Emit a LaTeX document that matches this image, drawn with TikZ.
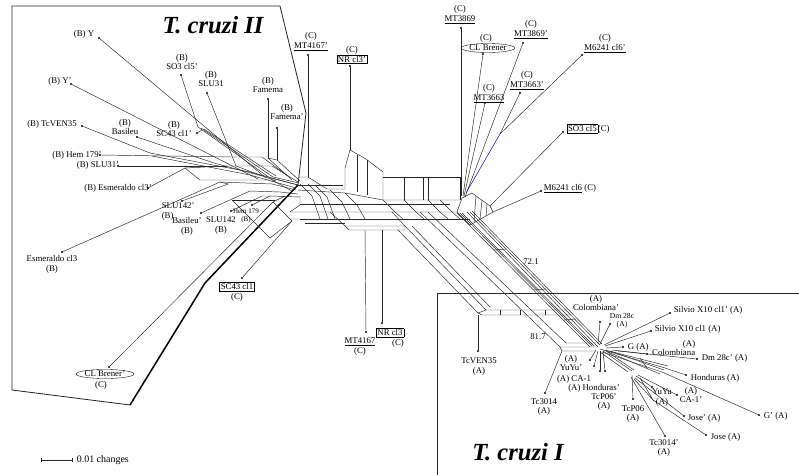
\documentclass[tikz,border=0pt]{standalone}
\usepackage{fontspec}
\setmainfont{Liberation Serif}
\usetikzlibrary{arrows.meta,shapes.geometric}
\setlength{\fboxsep}{0.8pt}
\setlength{\fboxrule}{0.3pt}
\tikzset{
  net/.style={line width=0.4pt,black!85},
  bnd/.style={line width=0.7pt,black!85},
  tip/.style={circle,fill,inner sep=0pt,minimum size=1.8pt},
  lab/.style={font=\fontsize{7.5}{8.5}\selectfont,inner sep=0.5pt,align=center},
  ov/.style={ellipse,draw,line width=0.3pt,inner sep=0.2pt},
  ttl/.style={font=\fontsize{21}{21}\selectfont\bfseries\itshape},
}

\begin{document}
\begin{tikzpicture}[x=0.03cm,y=-0.03cm]
  \path[use as bounding box] (0,0) rectangle (799,475);
  % clade frames and titles
  \draw[bnd] (298,185) -- (306,113) -- (280,6) -- (12,6) -- (12,390) -- (130,405);
  \draw[line width=1.3pt] (130,405) -- (205,283) -- (298,185);
  \draw[bnd] (437,475) -- (437,293) -- (799,293);
  \node[ttl] (t2) at (213,25) {T. cruzi II};
  \node[ttl] (t1) at (518,452) {T. cruzi I};
  % scale bar
  \coordinate (s0) at (41,460);
  \coordinate (s1) at (72,460);
  \draw[net,{Bar[width=3pt]}-{Bar[width=3pt]}] (s0) -- (s1);
  \node[lab,anchor=west,font=\fontsize{8.5}{9}\selectfont] (sc) at (76,460) {0.01 changes};

  % hubs
  \coordinate (h1) at (298,185);
  \coordinate (h2) at (460,200);
  \coordinate (h3) at (598,347);
  \coordinate (h4) at (630,373);

  % network: T. cruzi II side
  \draw[net] (150,153) -- (250,172) -- (h1);
  \draw[net] (152,156) -- (250,175) -- (296,188);
  \draw[net] (232,157) -- (262,157) -- (288,176);
  \draw[net] (226,166) -- (272,166) -- (298,182);
  \draw[net] (185,168) -- (226,166);
  \draw[net] (185,168) -- (200,180) -- (272,180) -- (292,191);
  \draw[net] (198,127) -- (270,178) -- (h1);
  \draw[net] (201,128) -- (273,177) -- (299,183);
  \draw[net] (204,129) -- (276,176);
  \draw[net] (214,163) -- (262,176);
  \draw[net] (236,166) -- (276,181);
  \draw[net] (268,158) -- (292,180);
  \draw[net] (268,158) -- (277,160) -- (300,181);
  \draw[net] (220,182) -- (272,184) -- (296,190);
  \draw[net] (228,184) -- (220,182);
  \draw[net] (250,191) -- (280,192) -- (298,194);
  \draw[net] (262,196) -- (270,196) -- (300,197);
  \draw[net] (273,202) -- (285,196);
  \draw[net] (273,202) -- (290,219) -- (300,219);
  \draw[net] (292,221) -- (290,219);
  \draw[net] (290,212) -- (300,205) -- (300,196);
  \draw[net] (232,200) -- (275,200);
  \draw[net] (232,200) -- (270,238) -- (292,221);
  % central trunk
  \draw[net] (299,177) -- (308,177) -- (327,189) -- (345,189);
  \draw[net] (h1) -- (343,185);
  \draw[net] (298,190) -- (345,193) -- (383,200) -- (460,200);
  \draw[net] (300,204) -- (450,204);
  \draw[net] (290,212) -- (457,212) -- (462,198);
  \draw[net] (300,219) -- (470,219);
  \draw[net] (305,223) -- (345,223);
  \draw[net] (345,189) -- (345,168) -- (350,150) -- (366,159) -- (383,172) -- (383,200);
  \draw[net] (357,155) -- (357,192);
  \draw[net] (367,160) -- (367,195);
  \draw[net] (383,177) -- (460,177) -- (h2);
  \foreach \x in {404,423,428}
    \draw[net] (\x,177) -- (\x,200);
  \foreach \x/\y in {300/184,308/184,315/185,330/190,345/193,383/200,404/200,428/200,440/200}
    \draw[net] (\x,\y) -- (\x+12,\y+12) -- (\x+20,219);
  % side branch to MT4167 / NR cl3
  \draw[net] (330,212) -- (345,226) -- (405,226) -- (392,212);
  \draw[net] (345,226) -- (349,230) -- (405,230) -- (405,226);
  % TcVEN35 branch
  \draw[net] (405,226) -- (486,310) -- (567,310);
  \draw[net] (398,230) -- (478,313) -- (482,315) -- (570,315);
  \draw[net] (412,226) -- (490,307);
  \draw[net] (478,313) -- (486,310);
  \foreach \x in {500,520,545}
    \draw[net] (\x,310) -- (\x,315);
  % 81.7 branch
  \draw[net] (420,212) -- (560,347) -- (596,347);
  \draw[net] (428,212) -- (566,343) -- (596,343);
  \draw[net] (560,347) -- (562,351) -- (596,351);
  % 72.1 band
  \draw[net] (457,213) -- (590,347);
  \draw[net] (460,213) -- (592,346);
  \draw[net] (462,213) -- (594,346);
  \draw[net] (467,212) -- (h3);
  \draw[net] (470,212) -- (600,345);
  \draw[net] (472,211) -- (602,344);
  \foreach \y in {250,290,320}
    \draw[net] (\y+244,\y) -- (\y+256,\y-1);
  % boxes right of h2
  \draw[net] (462,198) -- (472,193) -- (490,206) -- (493,212) -- (470,225) -- (457,212);
  \draw[net] (476,196) -- (474,222);
  \draw[net] (482,200) -- (480,219);
  \draw[net] (487,204) -- (486,216);
  % T. cruzi I hub
  \draw[net] (600,349) -- (665,368);
  \draw[net] (602,352) -- (662,372);
  \draw[net] (605,350) -- (668,366);
  \draw[net] (608,352) -- (660,374);
  \draw[net] (610,351) -- (664,370);
  \draw[net] (640,358) -- (647,368);
  \draw[net] (600,352) -- (628,372);
  \draw[net] (603,351) -- (632,371);
  \draw[net] (606,351) -- (634,370);
  \draw[net] (634,379) -- (653,400) -- (640,378);

  % leaf tips
  \node[tip] (dY) at (99,38) {};
  \node[tip] (dYp) at (71,84) {};
  \node[tip] (dTv) at (82,126) {};
  \node[tip] (dBas) at (137,137) {};
  \node[tip] (dSOp) at (181,75) {};
  \node[tip] (dSCp) at (197,133) {};
  \node[tip] (dSLUa) at (207,93) {};
  \node[tip] (dFam) at (268,99) {};
  \node[tip] (dFamp) at (277,128) {};
  \node[tip] (dHemp) at (100,155) {};
  \node[tip] (dSLUap) at (118,166) {};
  \node[tip] (dEsp) at (148,188) {};
  \node[tip] (dSLUbp) at (182,201) {};
  \node[tip] (dBasp) at (201,213) {};
  \node[tip] (dSLUb) at (252,205) {};
  \node[tip] (dHem) at (231,211) {};
  \node[tip] (dEs) at (62,252) {};
  \node[tip] (dCLBp) at (109,367) {};
  \node[tip] (dSC) at (242,278) {};
  \node[tip] (dMTap) at (308,55) {};
  \node[tip] (dNRp) at (350,66) {};
  \node[tip] (dMTb) at (461,28) {};
  \node[tip] (dCLB) at (483,54) {};
  \node[tip] (dMTbp) at (523,43) {};
  \node[tip] (dMcp) at (582,55) {};
  \node[tip] (dMTc) at (485,103) {};
  \node[tip] (dMTcp) at (520,93) {};
  \node[tip] (dSO) at (563,132) {};
  \node[tip] (dMc) at (541,191) {};
  \node[tip] (dMTa) at (366,332) {};
  \node[tip] (dNR) at (382,323) {};
  \node[tip] (dTvA) at (478,351) {};
  \node[tip] (dTc) at (545,393) {};
  \node[tip] (dColp) at (600,322) {};
  \node[tip] (dDm) at (610,324) {};
  \node[tip] (dSilp) at (670,313) {};
  \node[tip] (dSil) at (651,331) {};
  \node[tip] (dG) at (623,347) {};
  \node[tip] (dCol) at (647,354) {};
  \node[tip] (dDmp) at (697,359) {};
  \node[tip] (dHon) at (686,375) {};
  \node[tip] (dCAp) at (677,395) {};
  \node[tip] (dYu) at (652,387) {};
  \node[tip] (dTcPp) at (605,371) {};
  \node[tip] (dTcP) at (633,399) {};
  \node[tip] (dJosp) at (684,416) {};
  \node[tip] (dJos) at (706,435) {};
  \node[tip] (dGp) at (759,415) {};
  \node[tip] (dTcp) at (665,436) {};
  \node[tip] (dYup) at (590,360) {};
  \node[tip] (dCA) at (594,366) {};
  \node[tip] (dHonp) at (600,371) {};

  % attachment points on the network
  \coordinate (aY) at (266,178);
  \coordinate (aYp) at (258,179);
  \coordinate (aTv) at (150,153);
  \coordinate (aBas) at (214,163);
  \coordinate (aSOp) at (198,127);
  \coordinate (aSCp) at (202,130);
  \coordinate (aSLUa) at (236,166);
  \coordinate (aFam) at (268,158);
  \coordinate (aFamp) at (277,160);
  \coordinate (aHemp) at (232,157);
  \coordinate (aSLUap) at (226,166);
  \coordinate (aEsp) at (185,168);
  \coordinate (aSLUbp) at (228,184);
  \coordinate (aBasp) at (250,191);
  \coordinate (aSLUb) at (270,196);
  \coordinate (aHem) at (262,196);
  \coordinate (aEs) at (220,182);
  \coordinate (aCLBp) at (273,202);
  \coordinate (aSC) at (292,221);
  \coordinate (aMTap) at (308,177);
  \coordinate (aNRp) at (350,150);
  \coordinate (aMTb) at (461,196);
  \coordinate (aCLB) at (463,196);
  \coordinate (aMTc) at (464,196);
  \coordinate (aMTbp) at (465,197);
  \coordinate (aJ) at (500,134);
  \coordinate (aBlue) at (466,193);
  \coordinate (aSO) at (490,206);
  \coordinate (aMc) at (493,212);
  \coordinate (aMTa) at (365,230);
  \coordinate (aNR) at (382,230);
  \coordinate (aTvA) at (478,315);
  \coordinate (aTc) at (562,351);
  \coordinate (aColp) at (598,344);
  \coordinate (aDm) at (600,344);
  \coordinate (aSilp) at (604,345);
  \coordinate (aSil) at (605,346);
  \coordinate (aG) at (606,348);
  \coordinate (aCol) at (612,350);
  \coordinate (aDmp) at (618,351);
  \coordinate (aHon) at (665,368);
  \coordinate (aGp) at (662,372);
  \coordinate (aYup) at (596,350);
  \coordinate (aCA) at (598,351);
  \coordinate (aHonp) at (600,351);
  \coordinate (aTcPp) at (603,351);
  \coordinate (aTcP) at (632,375);
  \coordinate (aYu) at (636,376);
  \coordinate (aCAp) at (638,375);
  \coordinate (aJosp) at (635,378);
  \coordinate (aTcp) at (631,377);
  \coordinate (aJos) at (653,400);

  \foreach \d/\a in {dY/aY,dYp/aYp,dTv/aTv,dBas/aBas,dSOp/aSOp,dSCp/aSCp,
      dSLUa/aSLUa,dFam/aFam,dFamp/aFamp,dHemp/aHemp,dSLUap/aSLUap,dEsp/aEsp,
      dSLUbp/aSLUbp,dBasp/aBasp,dSLUb/aSLUb,dHem/aHem,dEs/aEs,dCLBp/aCLBp,
      dSC/aSC,dMTap/aMTap,dNRp/aNRp,dMTb/aMTb,dCLB/aCLB,dMTc/aMTc,
      dMTbp/aMTbp,dMTcp/aJ,dMcp/aJ,dSO/aSO,dMc/aMc,dMTa/aMTa,dNR/aNR,
      dTvA/aTvA,dTc/aTc,dColp/aColp,dDm/aDm,dSilp/aSilp,dSil/aSil,dG/aG,
      dCol/aCol,dDmp/aDmp,dHon/aHon,dGp/aGp,dYup/aYup,dCA/aCA,dHonp/aHonp,
      dTcPp/aTcPp,dTcP/aTcP,dYu/aYu,dCAp/aCAp,dJosp/aJosp,dTcp/aTcp,dJos/aJos}
    \draw[net] (\d) -- (\a);
  \draw[net,blue!70!black] (aJ) -- (aBlue);

  % labels, T. cruzi II
  \node[lab] (lY) at (84,34) {(B) Y};
  \node[lab] (lYp) at (60,81) {(B) Y'};
  \node[lab] (lTv) at (52,124) {(B) TcVEN35};
  \node[lab] (lBas) at (125,127) {(B)\\Basileu};
  \node[lab] (lSOp) at (182,62) {(B)\\SO3 cl5'};
  \node[lab] (lSLUa) at (211,79) {(B)\\SLU31};
  \node[lab] (lFam) at (268,85) {(B)\\Famema};
  \node[lab] (lFamp) at (287,112) {(B)\\Famema'};
  \node[lab] (lSCp) at (174,129) {(B)\\SC43 cl1'};
  \node[lab] (lHemp) at (77,155) {(B) Hem 179'};
  \node[lab] (lSLUap) at (98,165) {(B) SLU31'};
  \node[lab] (lEsp) at (118,188) {(B) Esmeraldo cl3'};
  \node[lab,align=left,anchor=north west] (lSLUbp) at (161,202) {SLU142'\\(B)};
  \node[lab] (lBasp) at (187,226) {Basileu'\\(B)};
  \node[lab] (lSLUb) at (221,226) {SLU142\\(B)};
  \node[lab,font=\fontsize{6}{6.5}\selectfont] (lHem) at (246,216) {Hem 179\\(B)};
  \node[lab] (lEs) at (52,264) {Esmeraldo cl3\\(B)};
  \node[lab,ov] (lCLBp) at (105,374) {CL Brener'};
  \node[lab] (lCLBpc) at (101,385) {(C)};
  \node[lab] (lSC) at (237,292) {\fbox{SC43 cl1}\\(C)};
  % labels, group C
  \node[lab] (lMTap) at (311,42) {(C)\\\underline{MT4167'}};
  \node[lab] (lNRp) at (352,55) {(C)\\\fbox{NR cl3'}};
  \node[lab] (lMTb) at (460,15) {(C)\\\underline{MT3869}};
  \node[lab] (lCLBc) at (486,38) {(C)};
  \node[lab,ov] (lCLB) at (488,48) {CL Brener};
  \node[lab] (lMTbp) at (531,30) {(C)\\\underline{MT3869'}};
  \node[lab] (lMcp) at (605,44) {(C)\\\underline{M6241 cl6'}};
  \node[lab] (lMTc) at (489,94) {(C)\\\underline{MT3663}};
  \node[lab] (lMTcp) at (527,81) {(C)\\\underline{MT3663'}};
  \node[lab,anchor=west] (lSO) at (566,129) {\fbox{SO3 cl5}(C)};
  \node[lab,anchor=west] (lMc) at (543,189) {\underline{M6241 cl6} (C)};
  \node[lab] (lMTa) at (360,347) {\underline{MT4167}\\(C)};
  \node[lab,align=right] (lNR) at (390,338) {\fbox{NR cl3}\\(C)};
  \node[lab] (l72) at (531,262) {72.1};
  \node[lab] (l82) at (538,337) {81.7};
  % labels, T. cruzi I
  \node[lab] (lTvA) at (479,367) {TcVEN35\\(A)};
  \node[lab] (lTc) at (544,407) {Tc3014\\(A)};
  \node[lab] (lColp) at (596,303) {(A)\\Colombiana'};
  \node[lab,font=\fontsize{6.5}{6.5}\selectfont] (lDm) at (622,321) {Dm 28c\\(A)};
  \node[lab,anchor=west] (lSilp) at (673,310) {Silvio X10 cl1' (A)};
  \node[lab,anchor=west] (lSil) at (654,329) {Silvio X10 cl1 (A)};
  \node[lab,anchor=west] (lG) at (627,347) {G (A)};
  \node[lab,align=right,anchor=east] (lCol) at (696,348) {(A)\\Colombiana};
  \node[lab,anchor=west] (lDmp) at (701,358) {Dm 28c' (A)};
  \node[lab,anchor=west] (lHon) at (690,378) {Honduras (A)};
  \node[lab] (lCAp) at (691,395) {(A)\\CA-1'};
  \node[lab] (lYu) at (662,398) {YuYu\\(A)};
  \node[lab] (lTcPp) at (604,402) {TcP06'\\(A)};
  \node[lab] (lTcP) at (633,414) {TcP06\\(A)};
  \node[lab,anchor=west] (lJosp) at (687,418) {Jose' (A)};
  \node[lab,anchor=west] (lJos) at (710,437) {Jose (A)};
  \node[lab,anchor=west] (lGp) at (763,416) {G' (A)};
  \node[lab] (lTcp) at (664,448) {Tc3014'\\(A)};
  \node[lab] (lYup) at (571,363) {(A)\\YuYu'};
  \node[lab] (lCA) at (574,379) {(A) CA-1};
  \node[lab] (lHonp) at (594,388) {(A) Honduras'};
\end{tikzpicture}
\end{document}
